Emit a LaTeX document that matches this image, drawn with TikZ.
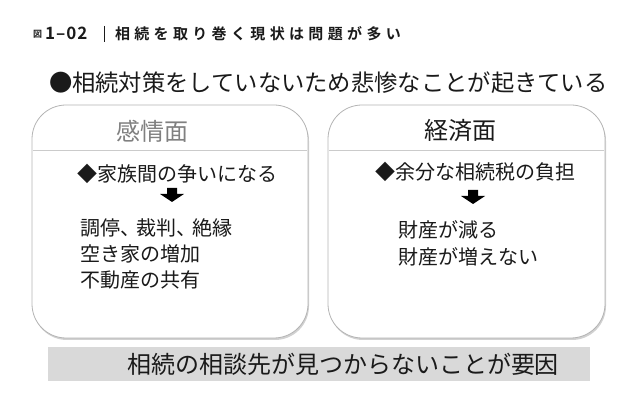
\documentclass[tikz,border=0pt]{standalone}
\usepackage{fontspec}
\usetikzlibrary{shadows}
\newfontfamily\cjk{Noto Sans CJK JP}
\newfontfamily\cjkb[LetterSpace=29]{Noto Sans CJK JP Bold}
\newfontfamily\cjkbn[LetterSpace=6]{Noto Sans CJK JP Bold}
\newcommand\tenten{、\kern-4pt}
\definecolor{boxline}{HTML}{B4B4B4}
\definecolor{hdrgray}{HTML}{808080}
\definecolor{barfill}{HTML}{D9D9D9}
\definecolor{txt}{HTML}{1A1A1A}
\tikzset{
  every node/.style={inner sep=0pt, outer sep=0pt, text=txt},
  panel/.style={draw=boxline, line width=0.8pt, fill=white, rounded corners=34pt,
    drop shadow={shadow xshift=1pt, shadow yshift=-2pt, opacity=0.3, fill=black!60}},
  sepline/.style={draw=boxline!70, line width=0.8pt},
  hdr/.style={font=\cjk\fontsize{24}{28}\selectfont},
  item/.style={font=\cjk\fontsize{20}{24}\selectfont, anchor=west},
  pics/downarrow/.style={code={
    \fill[black] (-5,-7) -- (5,-7) -- (5,-1) -- (12,-1) -- (0,7) -- (-12,-1) -- (-5,-1) -- cycle;
  }}
}
\begin{document}
\begin{tikzpicture}[x=1pt,y=-1pt]
\useasboundingbox (0,0) rectangle (640,403);
% title
\node[anchor=west, font=\cjkbn\fontsize{9}{10}\selectfont] (fig) at (33,34) {図};
\node[anchor=west, font=\cjkbn\fontsize{17}{20}\selectfont] (num) at (45,33) {1–02};
\coordinate (bartop) at (104,26);
\coordinate (barbot) at (104,42);
\draw[line width=0.9pt, txt] (bartop) -- (barbot);
\node[anchor=west, font=\cjkb\fontsize{15}{18}\selectfont] (title) at (115,33.5) {相続を取り巻く現状は問題が多い};
% heading
\node[anchor=west, font=\cjk\fontsize{23.3}{28}\selectfont] (head) at (49,83) {●相続対策をしていないため悲惨なことが起きている};
% left panel
\path[panel] (32,105) rectangle (308,338);
\coordinate (l1) at (33,150); \coordinate (l2) at (307,150);
\draw[sepline] (l1) -- (l2);
\node[hdr, text=hdrgray] (lh) at (152,131) {感情面};
\node[item] (la) at (77,174) {◆家族間の争いになる};
\pic at (172,195) {downarrow};
\node[item] (lb) at (80,228) {調停\tenten 裁判\tenten 絶縁};
\node[item] (lc) at (80,254) {空き家の増加};
\node[item] (ld) at (80,280) {不動産の共有};
% right panel
\path[panel] (328,105) rectangle (605,338);
\coordinate (r1) at (329,150); \coordinate (r2) at (604,150);
\draw[sepline] (r1) -- (r2);
\node[hdr] (rh) at (460,131) {経済面};
\node[item] (ra) at (375,172) {◆余分な相続税の負担};
\pic at (473,197) {downarrow};
\node[item] (rb) at (398,230) {財産が減る};
\node[item] (rc) at (398,257) {財産が増えない};
% bottom bar
\node[fill=barfill, minimum width=542pt, minimum height=34pt, anchor=west] (bar) at (48,364) {};
\node[font=\cjk\fontsize{24}{28}\selectfont, anchor=west] (bt) at (127,364) {相続の相談先が見つからないことが要因};
\end{tikzpicture}
\end{document}
